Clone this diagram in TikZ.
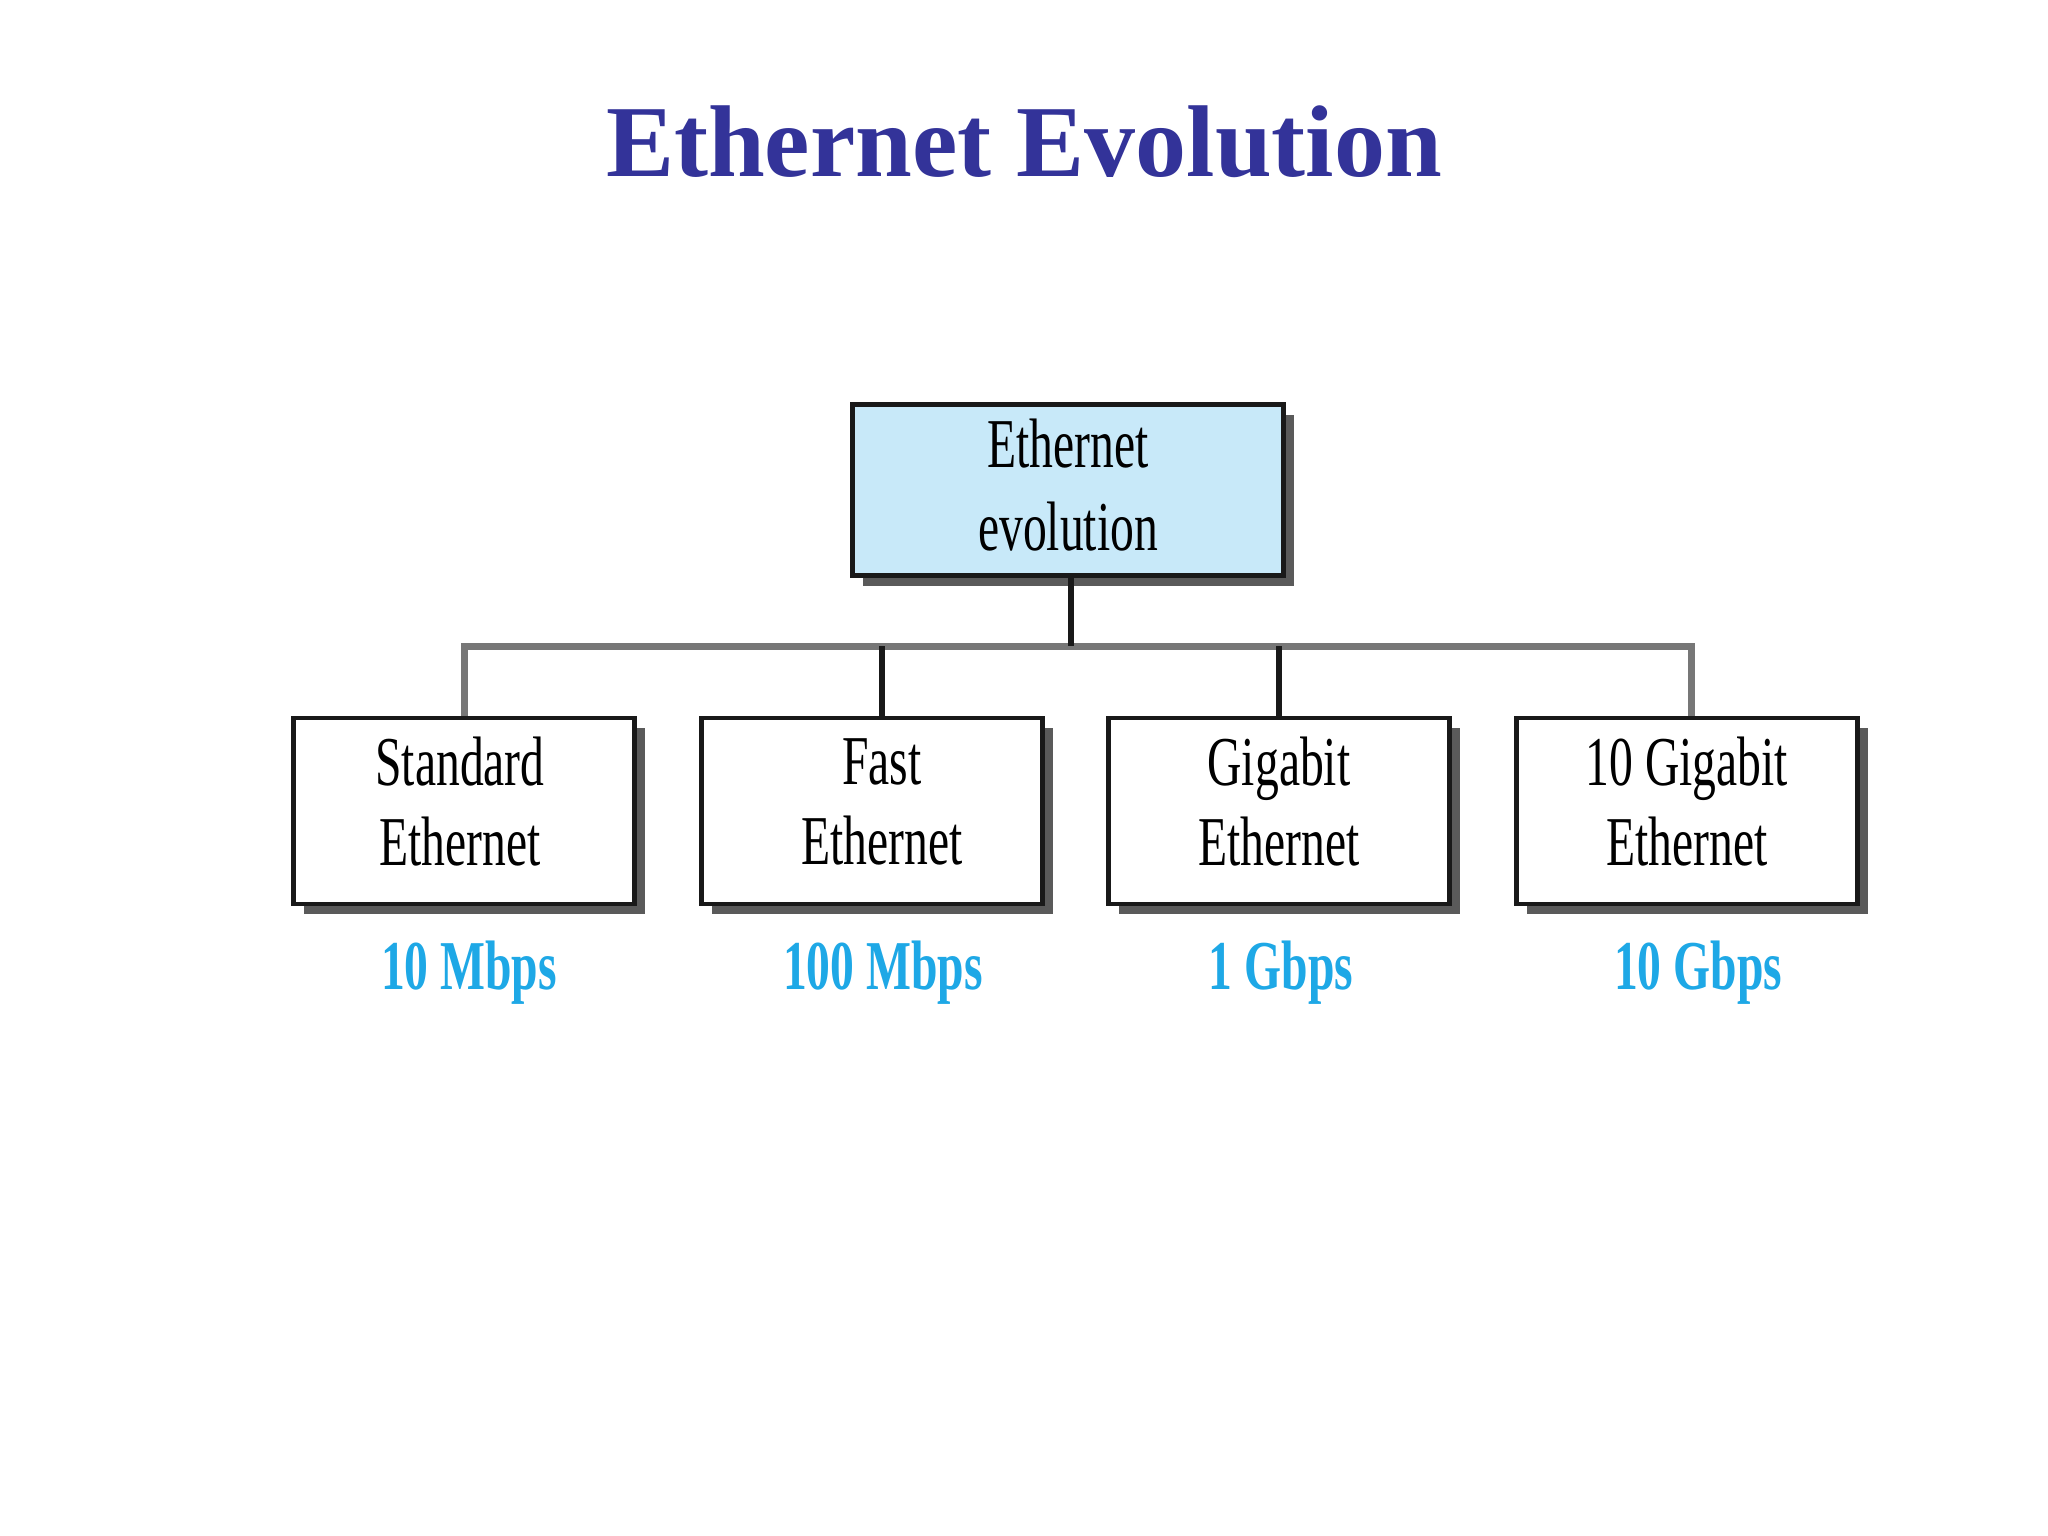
\documentclass[tikz,border=0pt]{standalone}
\usepackage{fontspec}
\setmainfont{Liberation Serif}
\newfontfamily\condfont[FakeStretch=0.68]{Liberation Serif}
\usetikzlibrary{shadows}
\definecolor{titleblue}{HTML}{333399}
\definecolor{boxblue}{HTML}{C8E9F9}
\definecolor{ratecyan}{HTML}{1EA8E6}
\definecolor{shadowgray}{HTML}{5A5A5A}
\definecolor{linegray}{HTML}{777777}
\tikzset{
  evbox/.style={draw=black!90, line width=4.5pt, fill=white, minimum width=341pt, minimum height=186pt,
    inner sep=0pt,
    drop shadow={shadow xshift=10pt, shadow yshift=-10pt, fill=shadowgray, opacity=1}},
  boxtext/.style={align=center, inner sep=0pt, font=\condfont\fontsize{70}{80}\selectfont},
  rootbox/.style={evbox, fill=boxblue, minimum width=431pt, minimum height=171pt},
  rate/.style={text=ratecyan, font=\condfont\bfseries\fontsize{70}{80}\selectfont, anchor=base, inner sep=0pt},
  bus/.style={linegray, line width=7pt},
  drop/.style={black!90, line width=6pt}
}
\begin{document}
\begin{tikzpicture}[x=1pt,y=-1pt]
\useasboundingbox[fill=white] (0,0) rectangle (2048,1536);
\node[anchor=base, text=titleblue, font=\bfseries\fontsize{102}{115}\selectfont, inner sep=0pt] (title) at (1024,176) {Ethernet Evolution};
\coordinate (busL) at (464,646);
\coordinate (busR) at (1691,646);
\coordinate (busM) at (1071,646);
\coordinate (busF) at (882,646);
\node[rootbox, label={[boxtext, font=\condfont\fontsize{70}{83}\selectfont, yshift=5pt]center:{Ethernet\\evolution}}] (root) at (1068,490) {};
\node[evbox, label={[boxtext, yshift=9pt, xshift=-4pt]center:{Standard\\Ethernet}}] (std) at (464,811) {};
\node[evbox, label={[boxtext, yshift=9pt, xshift=10pt]center:{Fast\\Ethernet}}] (fast) at (872,811) {};
\node[evbox, label={[boxtext, yshift=9pt]center:{Gigabit\\Ethernet}}] (giga) at (1279,811) {};
\node[evbox, label={[boxtext, yshift=9pt]center:{10 Gigabit\\Ethernet}}] (tgig) at (1687,811) {};
\draw[bus] (std.north -| busL) -- (busL) -- (busR) -- (tgig.north -| busR);
\draw[drop] (root.south -| busM) -- (busM);
\draw[drop] (fast.north -| busF) -- (busF);
\draw[drop] (giga.north) -- (giga.north |- busM);
\node[rate] (r1) at (469,989) {10 Mbps};
\node[rate] (r2) at (883,989) {100 Mbps};
\node[rate] (r3) at (1281,989) {1 Gbps};
\node[rate] (r4) at (1698,989) {10 Gbps};
\end{tikzpicture}
\end{document}
